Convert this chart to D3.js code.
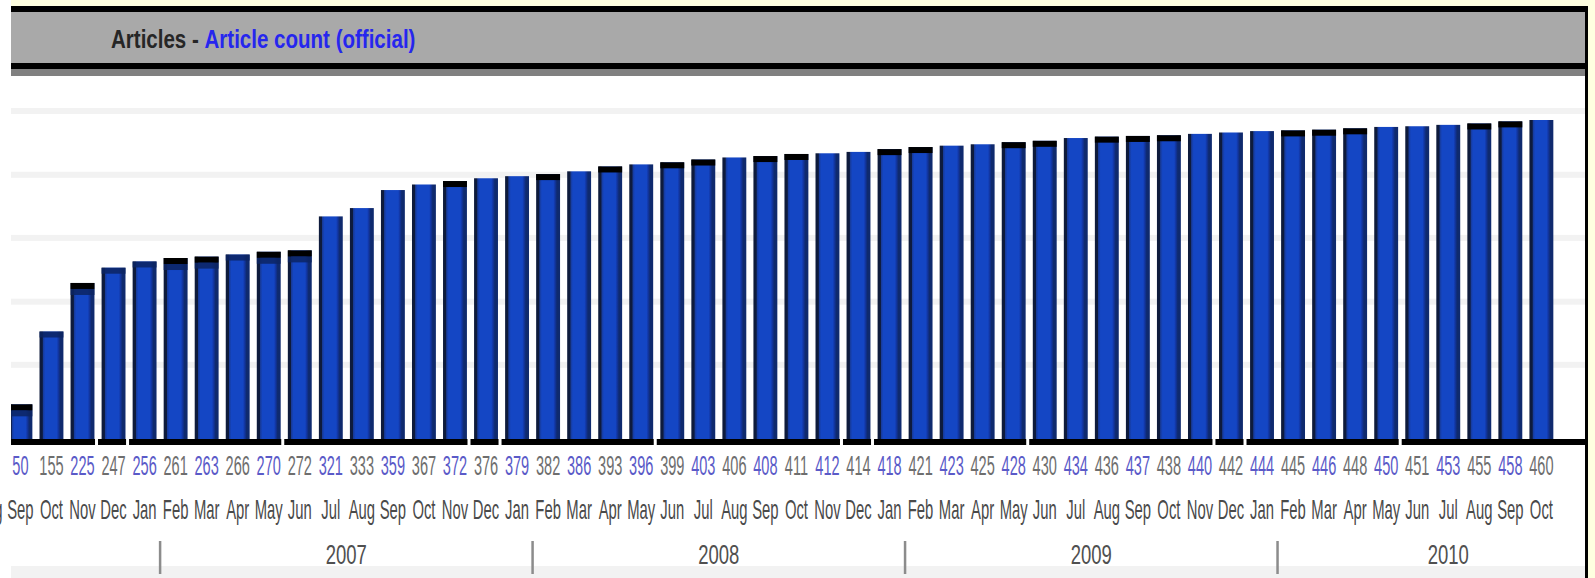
<!DOCTYPE html>
<html>
<head>
<meta charset="utf-8">
<script src="https://cdn.jsdelivr.net/npm/d3@7"></script>
<style>
body { margin: 0; background: #fff; }
svg { display: block; font-family: "Liberation Sans", Arial, sans-serif; }
</style>
</head>
<body>
<svg class="chart"></svg>
<script>
// month labels, one per slot, the first one (Aug 2006) sits left of the first bar
var months = ["Aug","Sep","Oct","Nov","Dec",
	"Jan","Feb","Mar","Apr","May","Jun","Jul","Aug","Sep","Oct","Nov","Dec",
	"Jan","Feb","Mar","Apr","May","Jun","Jul","Aug","Sep","Oct","Nov","Dec",
	"Jan","Feb","Mar","Apr","May","Jun","Jul","Aug","Sep","Oct","Nov","Dec",
	"Jan","Feb","Mar","Apr","May","Jun","Jul","Aug","Sep","Oct"];

// article count (official), in thousands
var articles = [50, 155, 225, 247, 256, 261, 263, 266, 270, 272,
	321, 333, 359, 367, 372, 376, 379, 382, 386, 393,
	396, 399, 403, 406, 408, 411, 412, 414, 418, 421,
	423, 425, 428, 430, 434, 436, 437, 438, 440, 442,
	444, 445, 446, 448, 450, 451, 453, 455, 458, 460];

// top cap of each bar: 0 none, 1 black, 2 dark blue, 3 black over dark blue
var caps = [3, 2, 3, 2, 2, 3, 3, 2, 3, 3,
	0, 0, 0, 0, 1, 0, 0, 1, 0, 1,
	0, 1, 1, 0, 1, 1, 0, 0, 1, 1,
	0, 0, 1, 1, 0, 1, 1, 1, 0, 0,
	0, 1, 1, 1, 0, 0, 0, 1, 1, 0];

var years = ["2007", "2008", "2009", "2010"];
var yearStarts = [5, 17, 29, 41];
var yearEnds = [17, 29, 41, 52];

// slots where a new segment of the base line starts
var groupStarts = [0, 3, 4, 9, 15, 16, 21, 27, 28, 33, 39, 40, 45];

var gridValues = [107, 198, 290, 381, 473];

var W = 1595, H = 578;
var left = 11, right = 1585;

var svg = d3.select(".chart")
	.attr("width", W)
	.attr("height", H);

var defs = svg.append("defs");
var grad = defs.append("linearGradient").attr("id", "barGrad");
[[0, "#0e1b3c"], [0.12, "#0e1b3c"], [0.15, "#173a98"], [0.24, "#1446c4"],
 [0.72, "#1446c4"], [0.78, "#1237a6"], [0.87, "#0f2a6e"], [1, "#0f2a6e"]]
	.forEach(function(s) {
		grad.append("stop").attr("offset", s[0]).attr("stop-color", s[1]);
	});
defs.append("clipPath").attr("id", "plotClip")
	.append("rect").attr("x", left).attr("y", 0).attr("width", right - left).attr("height", H);
defs.append("clipPath").attr("id", "monthClip")
	.append("rect").attr("x", 0).attr("y", 0).attr("width", 1558).attr("height", H);

// frame and header
svg.append("rect").attr("x", left).attr("y", 0).attr("width", W - left).attr("height", 6).attr("fill", "#ffffe0");
svg.append("rect").attr("x", 1588).attr("y", 0).attr("width", W - 1588).attr("height", H).attr("fill", "#ffffe0");
svg.append("rect").attr("x", left).attr("y", 6).attr("width", 1588 - left).attr("height", 6).attr("fill", "#000");
svg.append("rect").attr("x", left).attr("y", 12).attr("width", right - left).attr("height", 51).attr("fill", "#a9a9a9");
svg.append("rect").attr("x", left).attr("y", 63).attr("width", right - left).attr("height", 6).attr("fill", "#000");
svg.append("rect").attr("x", left).attr("y", 69).attr("width", right - left).attr("height", 7).attr("fill", "#808080");
svg.append("rect").attr("x", right).attr("y", 6).attr("width", 3).attr("height", H - 6).attr("fill", "#000");

var title = svg.append("text")
	.attr("transform", "translate(111,48) scale(0.79,1)")
	.style("font-size", "26px")
	.style("font-weight", "bold");
title.append("tspan").attr("fill", "#262626").text("Articles - ");
title.append("tspan").attr("fill", "#2626ee").text("Article count (official)");

// scales
var slot = d3.scaleLinear().domain([0, 50]).range([4.9, 1556.9]);
var x = d3.scaleBand()
	.domain(d3.range(articles.length))
	.range(slot.range())
	.paddingInner(0.23)
	.paddingOuter(0.115);
var y = d3.scaleLinear().domain([0, 460]).range([439, 120]);

var plot = svg.append("g").attr("clip-path", "url(#plotClip)");

// light grid bands
plot.selectAll(".grid")
	.data(gridValues)
.enter().append("rect")
	.attr("class", "grid")
	.attr("x", left)
	.attr("width", right - left)
	.attr("y", function(d) { return y(d) - 3; })
	.attr("height", 6)
	.attr("fill", "#f2f2f2");

// bars
var bar = plot.selectAll(".bar")
	.data(articles)
.enter().append("g")
	.attr("class", "bar");

bar.append("rect")
	.attr("x", function(d, i) { return x(i); })
	.attr("y", function(d) { return y(d); })
	.attr("width", x.bandwidth())
	.attr("height", function(d) { return y(0) - y(d); })
	.attr("fill", "url(#barGrad)");

bar.filter(function(d, i) { return caps[i] >= 2; })
	.append("rect")
	.attr("x", function(d) { return x(articles.indexOf(d)); })
	.attr("y", function(d) { var i = articles.indexOf(d); return y(d) + (caps[i] == 3 ? 6 : 0); })
	.attr("width", x.bandwidth())
	.attr("height", 6)
	.attr("fill", "#0c2463")
	.attr("opacity", 0.85);

bar.filter(function(d, i) { return caps[i] == 1 || caps[i] == 3; })
	.append("rect")
	.attr("x", function(d) { return x(articles.indexOf(d)); })
	.attr("y", function(d) { return y(d); })
	.attr("width", x.bandwidth())
	.attr("height", 6)
	.attr("fill", "#000");

// base line, in segments
plot.selectAll(".base")
	.data(groupStarts)
.enter().append("rect")
	.attr("class", "base")
	.attr("x", function(d) { return Math.max(left, slot(d)); })
	.attr("y", 439)
	.attr("width", function(d, i) {
		var end = i == groupStarts.length - 1 ? right : slot(groupStarts[i + 1]) - 3;
		return end - Math.max(left, slot(d));
	})
	.attr("height", 6)
	.attr("fill", "#000");

// value labels, alternating blue and grey
svg.selectAll(".value")
	.data(articles)
.enter().append("text")
	.attr("class", "value")
	.attr("transform", function(d, i) {
		return "translate(" + (x(i) + x.bandwidth() / 2) + ",475) scale(0.52,1)";
	})
	.attr("text-anchor", "middle")
	.style("font-size", "28px")
	.attr("fill", function(d, i) { return i % 2 == 0 ? "#5a5ac8" : "#6e6e6e"; })
	.text(function(d) { return d; });

// month labels
svg.append("g").attr("clip-path", "url(#monthClip)")
	.selectAll(".month")
	.data(months)
.enter().append("text")
	.attr("class", "month")
	.attr("transform", function(d, i) {
		return "translate(" + slot(i - 0.5) + ",519) scale(0.53,1)";
	})
	.attr("text-anchor", "middle")
	.style("font-size", "28px")
	.attr("fill", "#4a4a4a")
	.text(function(d) { return d; });

// year row
svg.append("rect").attr("x", left).attr("y", 566).attr("width", right - left).attr("height", 12).attr("fill", "#f2f2f2");

svg.selectAll(".yearline")
	.data(yearStarts)
.enter().append("line")
	.attr("class", "yearline")
	.attr("x1", function(d) { return slot(d); })
	.attr("x2", function(d) { return slot(d); })
	.attr("y1", 541)
	.attr("y2", 574)
	.attr("stroke", "#8c8c8c")
	.attr("stroke-width", 2.5);

svg.selectAll(".year")
	.data(years)
.enter().append("text")
	.attr("class", "year")
	.attr("transform", function(d, i) {
		return "translate(" + (slot(yearStarts[i]) + slot(yearEnds[i])) / 2 + ",564) scale(0.66,1)";
	})
	.attr("text-anchor", "middle")
	.style("font-size", "28px")
	.attr("fill", "#505050")
	.text(function(d) { return d; });
</script>
</body>
</html>
